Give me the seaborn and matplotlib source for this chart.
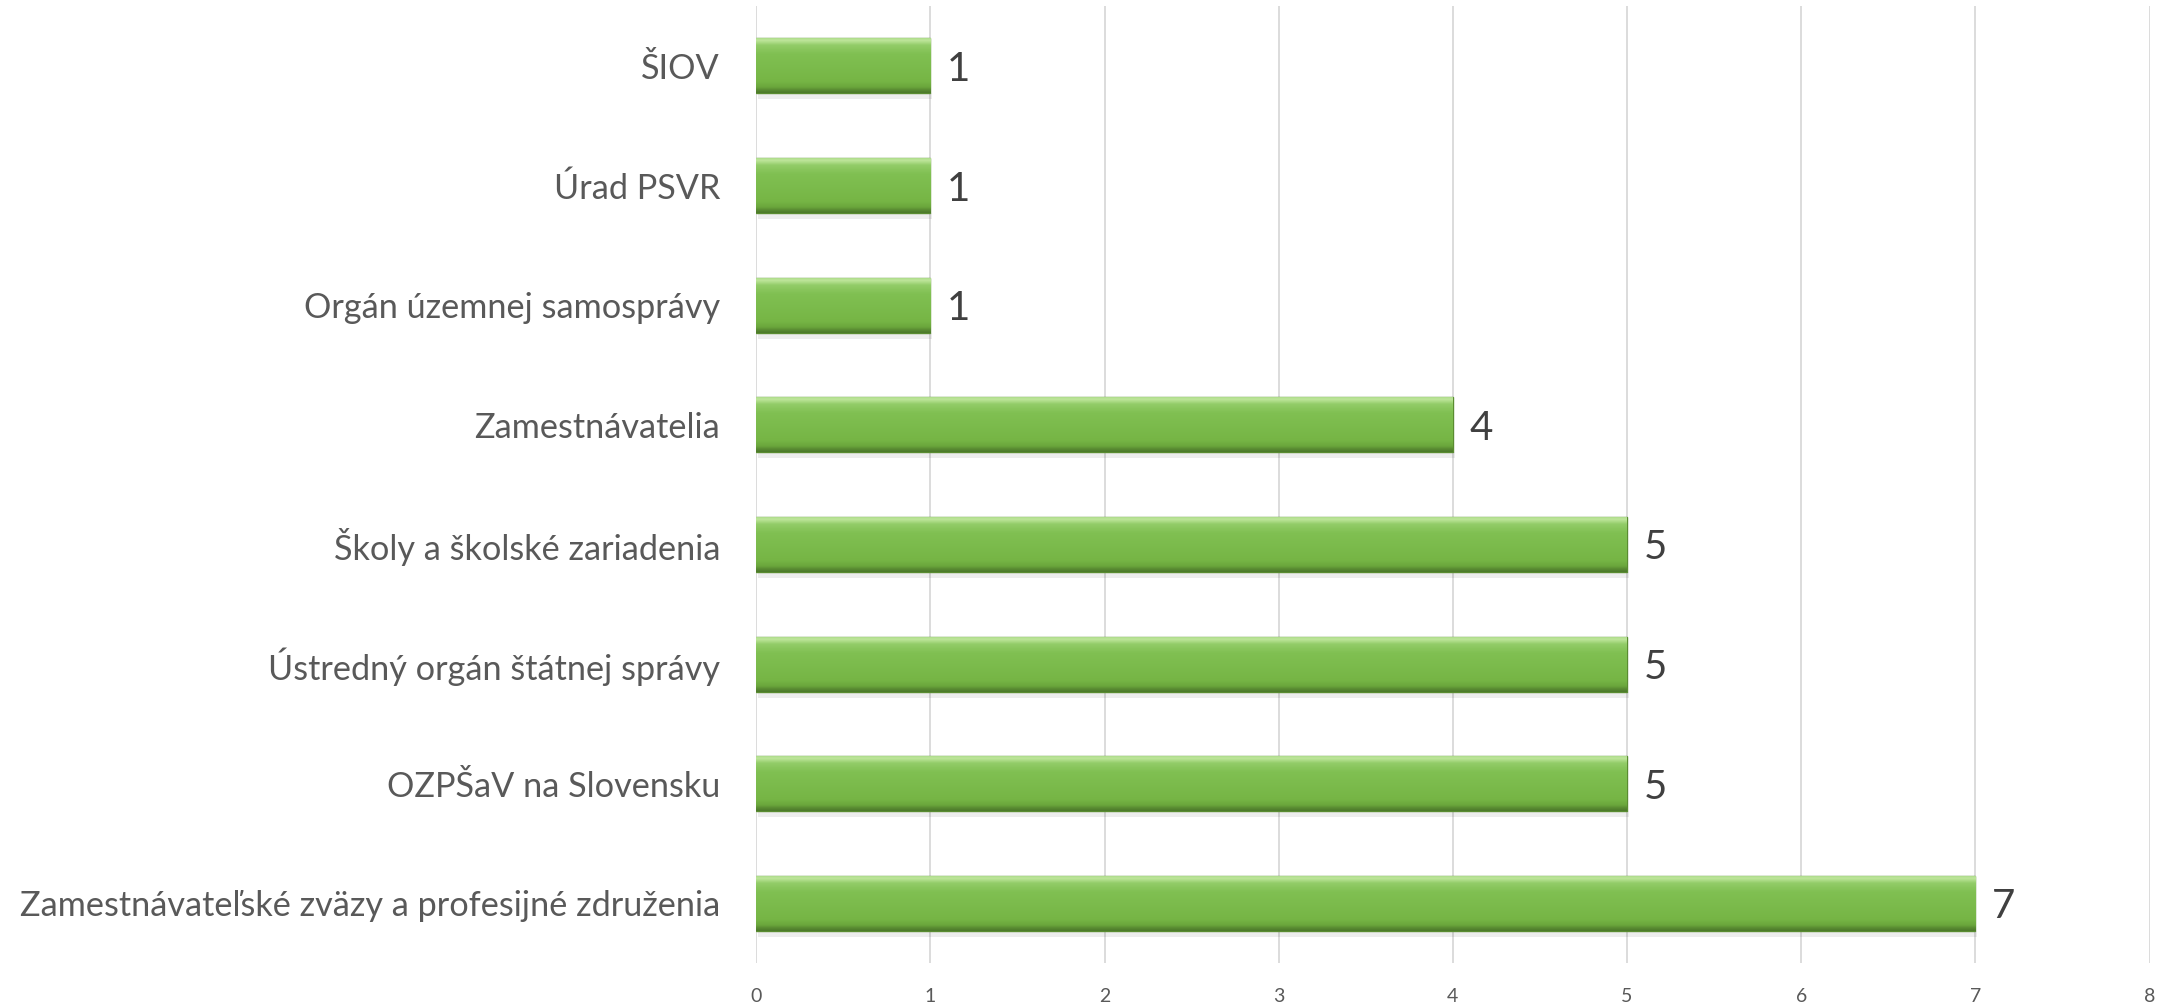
import matplotlib
matplotlib.use("Agg")
import matplotlib.pyplot as plt
import numpy as np
import pandas as pd
import seaborn as sns
from matplotlib.colors import LinearSegmentedColormap


categories = [
  "ŠIOV",
  "Úrad PSVR",
  "Orgán územnej samosprávy",
  "Zamestnávatelia",
  "Školy a školské zariadenia",
  "Ústredný orgán štátnej správy",
  "OZPŠaV na Slovensku",
  "Zamestnávateľské zväzy a profesijné združenia",
]
counts = [1, 1, 1, 4, 5, 5, 5, 7]
x_ticks = [0, 1, 2, 3, 4, 5, 6, 7, 8]

TEXT_COLOR = "#595959"
BAR_COLOR = "#7aba4a"


def add_bevel(ax, patch):
  # vertical gradient laid over the bar to mimic the bevelled Excel look
  x0, y0 = patch.get_x(), patch.get_y()
  w, h = patch.get_width(), patch.get_height()
  cmap = LinearSegmentedColormap.from_list(
    "bevel",
    [(0.0, "#a8d884"), (0.05, "#bfe69c"), (0.14, "#92cc68"), (0.3, "#80c052"),
     (0.8, "#76b545"), (0.9, "#6aa63c"), (0.95, "#5a8c32"), (1.0, "#4d7a2b")],
  )
  grad = np.linspace(0, 1, 80).reshape(-1, 1)
  im = ax.imshow(grad, cmap=cmap, aspect="auto",
                 extent=(x0, x0 + w, y0 + h, y0), zorder=3)
  im.set_clip_path(patch)


def main() -> None:
  sns.set_theme(style="white")
  plt.rcParams["font.family"] = ["Lato", "DejaVu Sans"]

  df = pd.DataFrame({"category": categories, "count": counts})

  fig = plt.figure(figsize=(21.69, 10.06), dpi=100)
  ax = fig.add_axes([0.3486, 0.0425, 0.6425, 0.9515])

  sns.barplot(data=df, x="count", y="category", color=BAR_COLOR,
              orient="h", width=0.46, edgecolor="#5a8c31", linewidth=1.0,
              saturation=1, ax=ax, zorder=2)

  for patch in list(ax.patches):
    # soft shadow under each bar
    shadow = plt.Rectangle((patch.get_x() + 0.01, patch.get_y() + patch.get_height()),
                           patch.get_width(), 0.05, color="#000000", alpha=0.07,
                           zorder=1, linewidth=0)
    ax.add_patch(shadow)
    add_bevel(ax, patch)

  labels = ax.bar_label(ax.containers[0], labels=[str(v) for v in counts],
                        padding=12, fontsize=29, color="#404040")
  for t in labels:
    t.set_va("center_baseline")

  ax.set_xlim(0, 8)
  ax.set_ylim(len(categories) - 0.5, -0.5)
  ax.set_xticks(x_ticks)
  ax.set_xticklabels([str(t) for t in x_ticks], fontsize=14, color=TEXT_COLOR)
  ax.tick_params(axis="x", length=0, pad=18)
  ax.tick_params(axis="y", length=0, pad=26, labelsize=24.7, labelcolor=TEXT_COLOR)
  ax.set_xlabel("")
  ax.set_ylabel("")
  ax.grid(axis="x", color="#d9d9d9", linewidth=1.3, zorder=0)
  ax.set_axisbelow(True)
  sns.despine(ax=ax, left=True, bottom=True)

  fig.savefig("out.png", dpi=100, facecolor="white")
  plt.close(fig)


if __name__ == "__main__":
  main()
